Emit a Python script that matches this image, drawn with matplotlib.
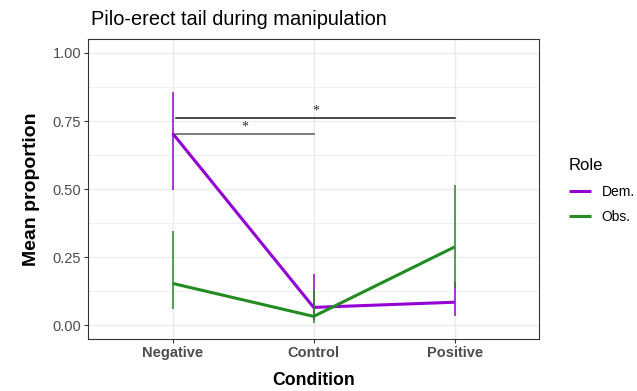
import numpy as np
import matplotlib
matplotlib.use('Agg')
import matplotlib.pyplot as plt
from matplotlib.ticker import MultipleLocator

plt.rcParams['font.family'] = ['Liberation Sans', 'DejaVu Sans']

# data
conditions = ['Negative', 'Control', 'Positive']
dem_mean = [0.705, 0.066, 0.085]
dem_lo = [0.497, 0.020, 0.033]
dem_hi = [0.855, 0.188, 0.160]
obs_mean = [0.154, 0.033, 0.288]
obs_lo = [0.060, 0.010, 0.137]
obs_hi = [0.348, 0.130, 0.515]
roles = ['Dem.', 'Obs.']
role_colors = ['#9400D3', '#228B22']
# significance brackets: (from, to, height)
sig_pairs = [('Negative', 'Positive', 0.761), ('Negative', 'Control', 0.703)]
sig_colors = ['#1a1a1a', '#595959']

fig = plt.figure(figsize=(6.37, 3.91), dpi=100)
ax = fig.add_axes([88/637, 1-339/391, (539.3-88)/637, (339-39.3)/391])

x = np.arange(1, len(conditions)+1)
series = [(dem_mean, dem_lo, dem_hi), (obs_mean, obs_lo, obs_hi)]
for i, (m, lo, hi) in enumerate(series):
    c = role_colors[i]
    ax.vlines(x, lo, hi, color=c, lw=1.1, zorder=3+i)
    ax.plot(x, m, color=c, lw=2.2, label=roles[i], zorder=3+i, solid_capstyle='butt')

pos = {c: i+1 for i, c in enumerate(conditions)}
for (a, b, h), col in zip(sig_pairs, sig_colors):
    x0, x1 = pos[a] + 0.026, pos[b]
    ax.plot([x0, x1], [h, h], color=col, lw=1.1, zorder=2)
    ax.text((x0+x1)/2, h + 0.002, '*', ha='center', va='bottom', fontsize=10,
            family='Liberation Serif', color='#333333')

ax.set_xlim(0.4, 3.6)
ax.set_ylim(-0.05, 1.05)
ax.set_xticks(x)
ax.set_xticklabels(conditions, fontweight='bold', fontsize=10.5, color='#4d4d4d')
ax.yaxis.set_major_locator(MultipleLocator(0.25))
ax.yaxis.set_minor_locator(MultipleLocator(0.125))
ax.set_yticks([0, 0.25, 0.5, 0.75, 1.0])
ax.set_yticklabels(['0.00', '0.25', '0.50', '0.75', '1.00'], fontsize=10.5, color='#4d4d4d')
ax.tick_params(axis='both', which='major', length=3, width=0.8, color='#333333', pad=2)
ax.tick_params(axis='y', which='minor', length=0)
ax.grid(True, which='major', color='#ebebeb', lw=1.0, zorder=0)
ax.grid(True, which='minor', axis='y', color='#ebebeb', lw=0.6, zorder=0)
ax.set_axisbelow(True)
for s in ax.spines.values():
    s.set_color('#333333')
    s.set_linewidth(0.8)

ax.set_xlabel('Condition', fontsize=12.7, fontweight='bold', labelpad=9)
ax.set_ylabel('Mean proportion', fontsize=14, fontweight='bold', labelpad=9)
fig.text(91/637, 1-25/391, 'Pilo-erect tail during manipulation', fontsize=14.4,
         ha='left', va='baseline')

leg = fig.legend(loc='upper left', bbox_to_anchor=(556/637, 1-146/391), title='Role',
                 frameon=False, fontsize=10, title_fontsize=12, handlelength=1.6,
                 handletextpad=0.8, labelspacing=0.8, alignment='left')

fig.savefig('out.png', dpi=100)
